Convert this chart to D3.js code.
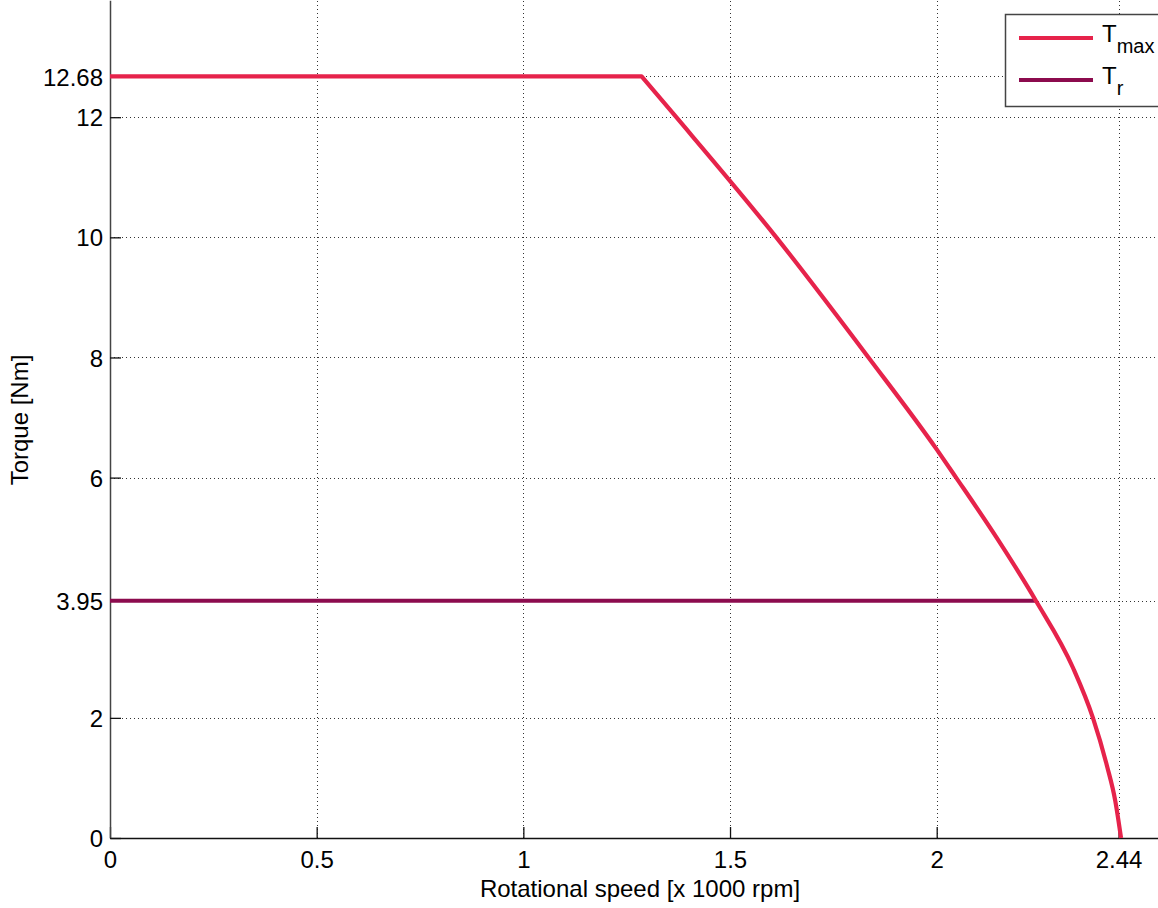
<!DOCTYPE html>
<html>
<head>
<meta charset="utf-8">
<script src="https://cdn.jsdelivr.net/npm/d3@7"></script>
<style>
  html, body { margin: 0; padding: 0; background: #fff; overflow: hidden; }
  text { font-family: "Liberation Sans", Arial, sans-serif; }
</style>
</head>
<body>
<div id="chartDiv"></div>
<script>
// values
const tmaxSpeed  = [0, 1.286, 1.37, 1.612, 1.835, 2.0, 2.047, 2.145, 2.24, 2.33, 2.378, 2.412, 2.432, 2.446];
const tmaxTorque = [12.68, 12.68, 12.0, 10.0, 8.0, 6.47, 6.0, 5.0, 3.95, 2.83, 2.0, 1.2, 0.62, 0];
const trSpeed  = [0, 2.24];
const trTorque = [3.95, 3.95];

const xTicks = [0, 0.5, 1, 1.5, 2, 2.44];
const xTickLabels = ["0", "0.5", "1", "1.5", "2", "2.44"];
const yTicks = [0, 2, 3.95, 6, 8, 10, 12, 12.68];
const yTickLabels = ["0", "2", "3.95", "6", "8", "10", "12", "12.68"];

const seriesNames = ["max", "r"];
const seriesColors = ["#e6234b", "#8c0b4e"];

const width = 1158, height = 908;
const svg = d3.select("#chartDiv").append("svg")
    .attr("width", width)
    .attr("height", height);

const x = d3.scaleLinear().domain([0, 2.562]).range([110, 1169]);
const y = d3.scaleLinear().domain([0, 13.948]).range([838, 0.2]);

// grid (dotted)
const grid = svg.append("g")
    .attr("stroke", "#333")
    .attr("stroke-width", 1)
    .attr("stroke-dasharray", "1,3");
grid.selectAll(".vg").data(xTicks).enter().append("line")
    .attr("x1", d => Math.round(x(d)) + 0.5).attr("x2", d => Math.round(x(d)) + 0.5)
    .attr("y1", y(0)).attr("y2", y(13.948));
grid.selectAll(".hg").data(yTicks).enter().append("line")
    .attr("y1", d => Math.round(y(d)) + 0.5).attr("y2", d => Math.round(y(d)) + 0.5)
    .attr("x1", x(0)).attr("x2", x(2.562));

// axes with inward ticks
const xAxis = svg.append("g")
    .attr("transform", `translate(0,${y(0)})`)
    .call(d3.axisBottom(x).tickValues(xTicks).tickFormat((d, i) => xTickLabels[i])
      .tickSizeInner(-11).tickSizeOuter(0));
xAxis.select(".domain").attr("stroke", "#111").attr("stroke-width", 1.3);
xAxis.selectAll(".tick line").attr("stroke", "#111").attr("stroke-width", 1.3);
xAxis.selectAll(".tick text")
    .attr("y", 30).attr("dy", null)
    .attr("font-size", 24).attr("fill", "#000");

const yAxis = svg.append("g")
    .attr("transform", `translate(${x(0)},0)`)
    .call(d3.axisLeft(y).tickValues(yTicks).tickFormat((d, i) => yTickLabels[i])
      .tickSizeInner(-11).tickSizeOuter(0));
yAxis.select(".domain").attr("stroke", "#444").attr("stroke-width", 1.5);
yAxis.selectAll(".tick line").attr("stroke", "#111").attr("stroke-width", 1.3);
yAxis.selectAll(".tick text")
    .attr("x", -7).attr("dy", "0.36em")
    .attr("font-size", 24).attr("fill", "#000");
svg.selectAll(".domain").attr("fill", "none");

// axis labels
svg.append("text")
    .attr("x", 640).attr("y", 897)
    .attr("text-anchor", "middle")
    .attr("font-size", 24)
    .text("Rotational speed [x 1000 rpm]");
svg.append("text")
    .attr("transform", "translate(28,420) rotate(-90)")
    .attr("text-anchor", "middle")
    .attr("font-size", 24)
    .text("Torque [Nm]");

// curves
const lineLin = d3.line().x(d => x(d[0])).y(d => y(d[1]));
const lineSmooth = d3.line().x(d => x(d[0])).y(d => y(d[1])).curve(d3.curveMonotoneX);
const tmax = tmaxSpeed.map((s, i) => [s, tmaxTorque[i]]);
const tr = trSpeed.map((s, i) => [s, trTorque[i]]);

svg.append("path")
    .attr("d", lineLin(tr))
    .attr("fill", "none")
    .attr("stroke", seriesColors[1])
    .attr("stroke-width", 4);

// flat part straight, falling part smooth, joined with a sharp knee
svg.append("path")
    .attr("d", lineLin(tmax.slice(0, 2)) + lineSmooth(tmax.slice(1)).replace(/^M/, "L"))
    .attr("fill", "none")
    .attr("stroke", seriesColors[0])
    .attr("stroke-width", 4.2)
    .attr("stroke-linejoin", "round");

// legend
const legend = svg.append("g");
legend.append("rect")
    .attr("x", 1005.5).attr("y", 14.5)
    .attr("width", 170).attr("height", 92)
    .attr("fill", "#fff")
    .attr("stroke", "#444")
    .attr("stroke-width", 1.5);

const rowY = [38, 80];
seriesNames.forEach((name, i) => {
  legend.append("line")
      .attr("x1", 1019).attr("x2", 1093)
      .attr("y1", rowY[i]).attr("y2", rowY[i])
      .attr("stroke", seriesColors[i])
      .attr("stroke-width", 4);
  const t = legend.append("text")
      .attr("x", 1102).attr("y", rowY[i] + 4)
      .attr("font-size", 24);
  t.append("tspan").text("T");
  t.append("tspan")
      .attr("font-size", 20)
      .attr("dy", 11)
      .text(name);
});
</script>
</body>
</html>
